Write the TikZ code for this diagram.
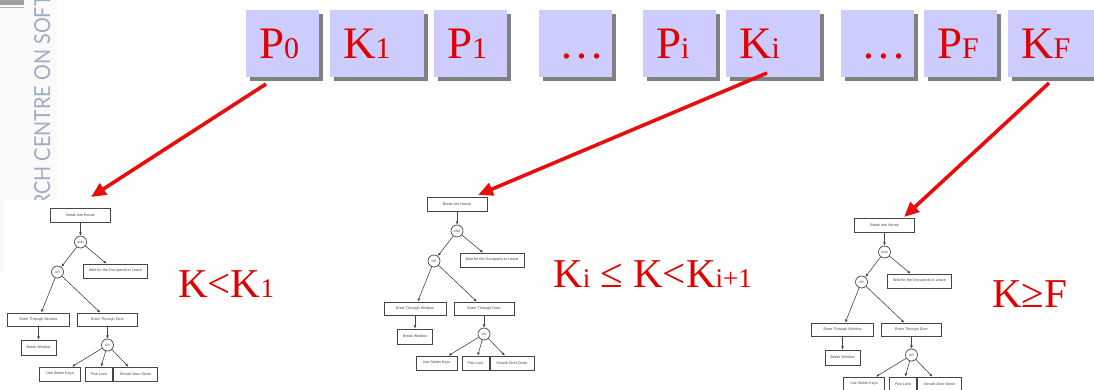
\documentclass[tikz,border=0pt]{standalone}
\usepackage{fontspec}
\setmainfont{Liberation Serif}
\newfontfamily\wmfont[FakeStretch=0.9]{Lato}
\newfontfamily\treefont{Liberation Sans}
\usetikzlibrary{arrows.meta,shadows}

\definecolor{keyred}{RGB}{224,0,0}
\definecolor{arrowred}{RGB}{232,14,14}
\definecolor{boxfill}{RGB}{204,204,255}
\definecolor{wmblue}{RGB}{158,170,198}
\definecolor{treeink}{RGB}{70,70,70}

% key / partition symbols: large letter, smaller index on the same baseline
\newcommand\keysym[2]{{\fontsize{45}{48}\selectfont #1}{\fontsize{30}{32}\selectfont #2}}
\newcommand\rangefont{\fontsize{41}{44}\selectfont}
\newcommand\rangesub[1]{{\fontsize{27}{30}\selectfont #1}}

\tikzset{
  x=1pt, y=-1pt,
  keybox/.style={fill=boxfill, text=keyred, align=left,
    inner xsep=13pt, inner ysep=0pt, minimum height=67pt,
    text height=30pt, text depth=0pt,
    general shadow={fill=gray, shadow xshift=4pt, shadow yshift=-4pt}},
  pbox/.style={keybox, text width=47pt},
  kbox/.style={keybox, text width=68pt},
  redarrow/.style={draw=arrowred, line width=3.6pt,
    -{Triangle[length=15pt,width=13pt]}},
  rangelabel/.style={text=keyred, inner sep=0pt, anchor=base west,
    font=\rangefont},
  tbox/.style={draw=treeink, line width=0.7pt, fill=white, text=treeink,
    inner sep=0pt, font=\treefont\fontsize{3.7}{4.2}\selectfont},
  tgate/.style={circle, draw=treeink, line width=0.7pt, fill=white,
    text=treeink, minimum size=12pt, inner sep=0pt,
    font=\treefont\fontsize{3.2}{3.6}\selectfont},
  tarrow/.style={draw=treeink, line width=0.6pt,
    -{Latex[length=3.2pt,width=2.8pt]}},
  housetree/.pic={
    \node[tbox, minimum width=60pt, minimum height=14pt] (-root) at (0,7) {Break into House};
    \node[tgate] (-and) at (0,34) {AND};
    \node[tgate] (-or) at (-23,64) {OR};
    \node[tbox, minimum width=64pt, minimum height=14pt] (-wait) at (35,63) {Wait for the Occupants to Leave};
    \node[tbox, minimum width=62pt, minimum height=13pt] (-win) at (-42,111.5) {Enter Through Window};
    \node[tbox, minimum width=60pt, minimum height=13pt] (-door) at (27,111.5) {Enter Through Door};
    \node[tbox, minimum width=35pt, minimum height=15pt] (-brk) at (-42,139.5) {Break Window};
    \node[tgate] (-or2) at (27,137) {OR};
    \node[tbox, minimum width=41pt, minimum height=14pt] (-keys) at (-20.5,166) {Use Stolen Keys};
    \node[tbox, minimum width=27pt, minimum height=14pt] (-lock) at (18.5,166) {Pick Lock};
    \node[tbox, minimum width=44pt, minimum height=14pt] (-smash) at (55,166) {Smash Door Down};
    \draw[tarrow] (-root) -- (-and);
    \draw[tarrow] (-and) -- (-or);
    \draw[tarrow] (-and) -- (-wait);
    \draw[tarrow] (-or) -- (-win);
    \draw[tarrow] (-or) -- (-door);
    \draw[tarrow] (-win) -- (-brk);
    \draw[tarrow] (-door) -- (-or2);
    \draw[tarrow] (-or2) -- (-keys);
    \draw[tarrow] (-or2) -- (-lock);
    \draw[tarrow] (-or2) -- (-smash);
  }
}

\begin{document}
\begin{tikzpicture}
\useasboundingbox (0,0) rectangle (1094,390);
\clip (0,0) rectangle (1094,390);

% side panel with the rotated centre name and the small logo
\fill[gray!4] (0,0) rectangle (57,272);
\fill[gray!75] (0,0) rectangle (24,5.5);
\draw[gray!60, line width=0.6pt] (0,7) -- (24,7);
\node[rotate=90, anchor=base west, inner sep=0pt, text=wmblue,
      font=\wmfont\fontsize{22}{24}\selectfont] (wm) at (50,207) {RCH CENTRE ON SOFT};

% the sequence of partitions P and boundary keys K
\node[pbox] (p0) at (282.5,43.5) {\keysym{P}{0}};
\node[kbox] (k1) at (377,43.5) {\keysym{K}{1}};
\node[pbox] (p1) at (470.5,43.5) {\keysym{P}{1}};
\node[pbox] (d1) at (575.5,43.5) {\keysym{\,…}{}};
\node[pbox] (pi) at (679.5,43.5) {\keysym{P}{i}};
\node[kbox] (ki) at (773,43.5) {\keysym{K}{i}};
\node[pbox] (d2) at (877.5,43.5) {\keysym{\,…}{}};
\node[pbox] (pf) at (960.5,43.5) {\keysym{P}{F}};
\node[kbox] (kf) at (1055,43.5) {\keysym{K}{F}};

% one attack tree per key range
\fill[white] (4,200) rectangle (166,390);
\pic (t1) at (80.5,208) {housetree};
\pic (t2) at (457,197) {housetree};
\pic (t3) at (884.5,218) {housetree};

% key ranges
\node[rangelabel] (r1) at (178,297) {K<K\rangesub{1}};
\node[rangelabel] (r2) at (553,287) {K\rangesub{i} ≤ K<K\rangesub{i+1}};
\node[rangelabel] (r3) at (992,307) {K≥F};

% pointers from the sequence to the trees
\coordinate (s1) at (266,84);
\coordinate (e1) at (91,197);
\coordinate (s2) at (767,73);
\coordinate (e2) at (478,195);
\coordinate (s3) at (1049,83);
\coordinate (e3) at (904,217);
\draw[redarrow] (s1) -- (e1);
\draw[redarrow] (s2) -- (e2);
\draw[redarrow] (s3) -- (e3);
\end{tikzpicture}
\end{document}
